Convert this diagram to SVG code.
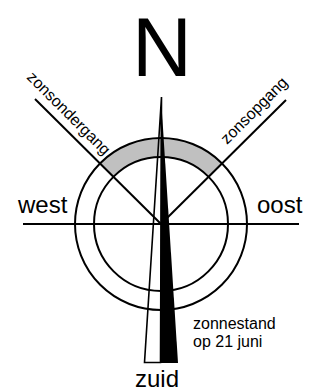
<svg xmlns="http://www.w3.org/2000/svg" width="332" height="392" viewBox="0 0 332 392">
<style>
.ln{stroke:#000;stroke-width:2;fill:none}
.t{font-family:"Liberation Sans",Arial,sans-serif;fill:#000}
</style>
<rect width="332" height="392" fill="#fff"/>
<g id="band">
<path d="M100.2,163.2 A86,86 0 0 1 221.8,163.2 L208.4,176.6 A67,67 0 0 0 113.6,176.6 Z" fill="#c0c0c0"/>
</g>
<g id="connectors">
<circle class="ln" cx="161" cy="224" r="86"/>
<circle class="ln" cx="161" cy="224" r="67"/>
<line class="ln" x1="23" y1="224" x2="299" y2="224"/>
<line class="ln" x1="35" y1="99" x2="161" y2="224"/>
<line class="ln" x1="286" y1="100" x2="161" y2="224"/>
</g>
<g id="needle">
<polygon points="161.5,97 144.5,362.5 160.5,362.5" fill="none" stroke="#000" stroke-width="1.6"/>
<polygon points="161,97 178,363 160,363" fill="#000"/>
</g>
<g id="labels">
<text class="t" x="162" y="75.5" font-size="83" text-anchor="middle">N</text>
<text class="t" x="18" y="213" font-size="24">west</text>
<text class="t" x="257" y="213" font-size="24">oost</text>
<text class="t" x="135" y="387" font-size="24">zuid</text>
<text class="t" x="193" y="329" font-size="16">zonnestand</text>
<text class="t" x="193" y="347" font-size="16">op 21 juni</text>
<text class="t" font-size="16" transform="translate(26,78) rotate(45)">zonsondergang</text>
<text class="t" font-size="16" transform="translate(227,145) rotate(-45)">zonsopgang</text>
</g>
</svg>
